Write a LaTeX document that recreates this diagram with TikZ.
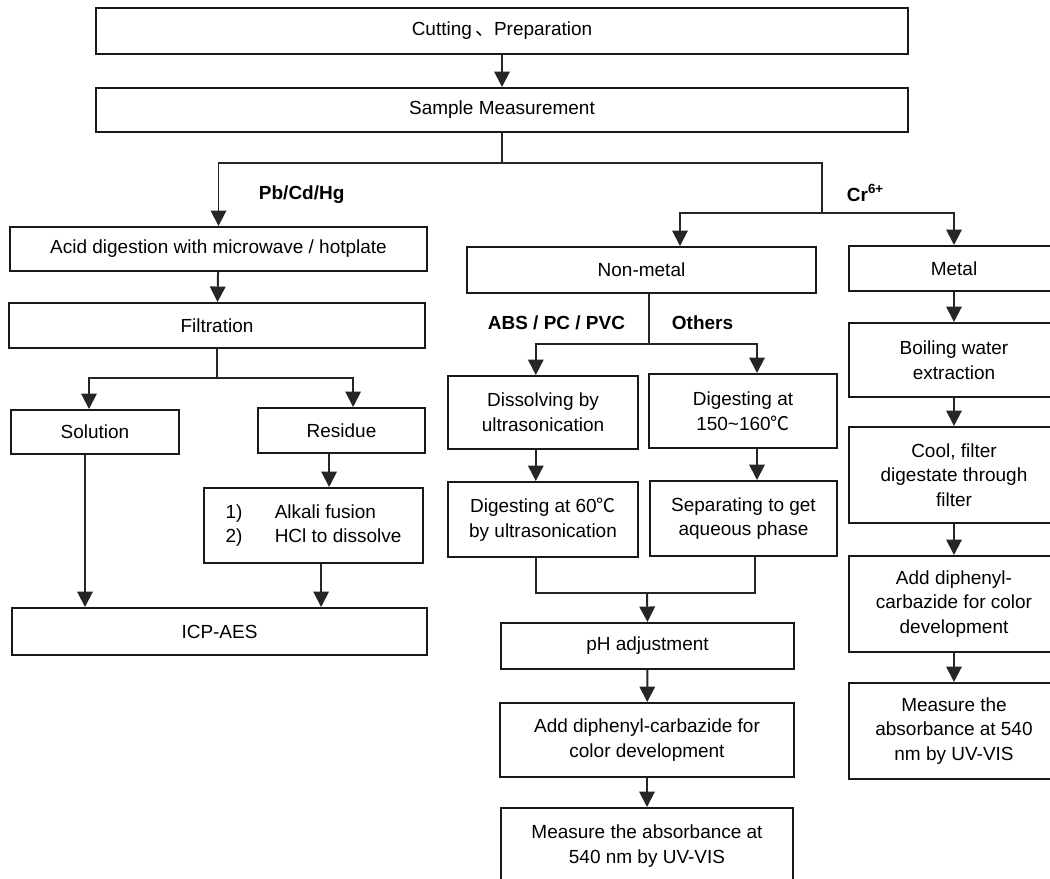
\documentclass[tikz,border=0pt]{standalone}
\usepackage{fontspec}
\setmainfont{Liberation Sans}
\newfontfamily\cjk{Noto Sans CJK SC}
\usepackage{tikz}
\usetikzlibrary{arrows.meta}

\begin{document}
\begin{tikzpicture}[x=0.025cm, y=-0.025cm, >={Triangle[width=11pt,length=11pt]},
  box/.style={draw, line width=1.4pt, black!90, text=black, align=center, inner sep=2pt,
    font=\fontsize{13.5}{17.5}\selectfont},
  tag/.style={font=\bfseries\fontsize{13.5}{16}\selectfont},
  flow/.style={line width=1.4pt, black!85}]
  \useasboundingbox (0,0) rectangle (1050,879);
  % ---------- common trunk ----------
  \node[box, minimum width=20.28cm, minimum height=1.15cm] (cut) at (502,31) {Cutting\,{\cjk 、}Preparation};
  \node[box, minimum width=20.28cm, minimum height=1.1cm] (sample) at (502,110) {Sample Measurement};
  \coordinate (split) at (502,163);
  \coordinate (crjoin) at (822,213);
  \draw[flow, ->] (cut) -- (sample);
  \draw[flow] (sample.south) -- (split);
  \draw[flow] (split) -| (crjoin);
  \node[tag, anchor=west] (pbtag) at (254,195) {Pb/Cd/Hg};
  \node[tag, anchor=west] (crtag) at (842,193) {Cr\textsuperscript{6+}};
  % ---------- Pb/Cd/Hg branch ----------
  \node[box, minimum width=10.43cm, minimum height=1.1cm] (acid) at (218.5,249) {Acid digestion with microwave / hotplate};
  \node[box, minimum width=10.4cm, minimum height=1.125cm] (filt) at (217,325.5) {Filtration};
  \node[box, minimum width=4.2cm, minimum height=1.1cm] (sol) at (95,432) {Solution};
  \node[box, minimum width=4.18cm, minimum height=1.125cm] (res) at (341.5,430.5) {Residue};
  \node[box, minimum width=5.48cm, minimum height=1.875cm] (alk) at (313.5,525.5)
    {\begin{tabular}{@{}l@{\hspace{1.7em}}l@{}}1) & Alkali fusion\\ 2) & HCl to dissolve\end{tabular}};
  \node[box, minimum width=10.38cm, minimum height=1.175cm] (icp) at (219.5,631.5) {ICP-AES};
  \coordinate (fsplit) at (217,378);
  \draw[flow, ->] (split) -| (acid.north);
  \draw[flow, ->] (acid) -- (filt);
  \draw[flow] (filt.south) -- (fsplit);
  \draw[flow, ->] (fsplit) -| ([xshift=-0.15cm]sol.north);
  \draw[flow, ->] (fsplit) -| ([xshift=0.29cm]res.north);
  \draw[flow, ->] ([xshift=-0.31cm]res.south) -- ([xshift=-0.31cm]res.south |- alk.north);
  \draw[flow, ->] ([xshift=0.19cm]alk.south) -- ([xshift=0.19cm]alk.south |- icp.north);
  \draw[flow, ->] ([xshift=-0.25cm]sol.south) -- ([xshift=-0.25cm]sol.south |- icp.north);
  % ---------- Cr(VI): non-metal ----------
  \node[box, minimum width=8.73cm, minimum height=1.15cm] (nonmetal) at (641.5,270) {Non-metal};
  \node[box, minimum width=4.75cm, minimum height=1.825cm] (diss) at (543,412.5) {Dissolving by\\ ultrasonication};
  \node[box, minimum width=4.7cm, minimum height=1.85cm] (dighot) at (743,411) {Digesting at\\ 150\textasciitilde160{\cjk ℃}};
  \node[box, minimum width=4.75cm, minimum height=1.875cm] (digwarm) at (543,519.5) {Digesting at 60{\cjk ℃}\\ by ultrasonication};
  \node[box, minimum width=4.68cm, minimum height=1.875cm] (sep) at (743.5,518.5) {Separating to get\\ aqueous phase};
  \node[box, minimum width=7.33cm, minimum height=1.15cm] (ph) at (647.5,646) {pH adjustment};
  \node[box, minimum width=7.35cm, minimum height=1.85cm] (add) at (647,740) {Add diphenyl-carbazide for\\ color development};
  \node[box, minimum width=7.3cm, minimum height=1.9cm] (meas) at (647,846) {Measure the absorbance at\\ 540 nm by UV-VIS};
  \node[tag, anchor=east] (plastag) at (630,323) {ABS / PC / PVC};
  \node[tag, anchor=west] (othtag) at (667,323) {Others};
  \coordinate (nmin) at (680,0);
  \coordinate (nsplit) at (649,344);
  \coordinate (merge) at (647,593);
  \draw[flow, ->] (crjoin) -| (nmin |- nonmetal.north);
  \draw[flow] (nsplit |- nonmetal.south) -- (nsplit);
  \draw[flow, ->] (nsplit) -| ([xshift=-0.18cm]diss.north);
  \draw[flow, ->] (nsplit) -| ([xshift=0.35cm]dighot.north);
  \draw[flow, ->] ([xshift=-0.18cm]diss.south) -- ([xshift=-0.18cm]diss.south |- digwarm.north);
  \draw[flow, ->] ([xshift=0.35cm]dighot.south) -- ([xshift=0.35cm]dighot.south |- sep.north);
  \draw[flow] ([xshift=-0.18cm]digwarm.south) |- (merge) -| ([xshift=0.29cm]sep.south);
  \draw[flow, ->] (merge) -- (ph.north);
  \draw[flow, ->] (ph) -- (add);
  \draw[flow, ->] (add) -- (meas);
  % ---------- Cr(VI): metal ----------
  \node[box, minimum width=5.25cm, minimum height=1.125cm] (metal) at (954,268.5) {Metal};
  \node[box, minimum width=5.25cm, minimum height=1.85cm] (boil) at (954,360) {Boiling water\\ extraction};
  \node[box, minimum width=5.25cm, minimum height=2.4cm] (cool) at (954,475) {Cool, filter\\ digestate through\\ filter};
  \node[box, minimum width=5.25cm, minimum height=2.4cm] (addm) at (954,604) {Add diphenyl-\\ carbazide for color\\ development};
  \node[box, minimum width=5.25cm, minimum height=2.4cm] (measm) at (954,731) {Measure the\\ absorbance at 540\\ nm by UV-VIS};
  \draw[flow, ->] (crjoin) -| (metal.north);
  \draw[flow, ->] (metal) -- (boil);
  \draw[flow, ->] (boil) -- (cool);
  \draw[flow, ->] (cool) -- (addm);
  \draw[flow, ->] (addm) -- (measm);
\end{tikzpicture}
\end{document}
